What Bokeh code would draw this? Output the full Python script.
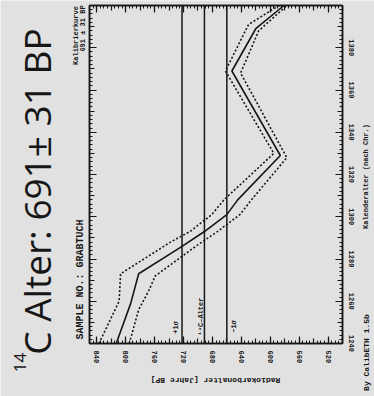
import math
from bokeh.plotting import figure
from bokeh.models import Range1d, LinearAxis, FixedTicker, Label
from bokeh.embed import file_html
from bokeh.resources import INLINE

# ---- data (calendar year AD, radiocarbon age BP) ----
curve_years = [1240, 1259, 1273, 1286, 1293, 1301, 1308, 1329, 1369, 1389, 1400]
curve_bp    = [813, 793, 782, 722, 691, 660, 645, 586, 653, 620, 581]

upper_years = [1240, 1260, 1273, 1288, 1293, 1301, 1308, 1330, 1369, 1391, 1400]
upper_bp    = [837, 809, 807, 738, 711, 681, 664, 595, 662, 630, 588]

lower_years = [1240, 1256, 1265, 1272, 1286, 1293, 1301, 1308, 1328, 1368, 1388, 1400]
lower_bp    = [795, 782, 768, 759, 703, 673, 642, 626, 577, 641, 616, 577]

c14_lines  = [722, 691, 660]          # +1 sigma, 14C age, -1 sigma
c14_labels = ["+1σ", "¹⁴C–Alter", "−1σ"]

bp_box   = (850, 500)
year_box = (1240, 1400)
bp_label_ticks   = list(range(520, 841, 40))
bp_mid_ticks     = list(range(500, 851, 20))
bp_minor_ticks   = list(range(500, 851, 5))
year_label_ticks = list(range(1240, 1381, 20))
year_mid_ticks   = list(range(1240, 1401, 10))
year_minor_ticks = list(range(1240, 1401, 2))

W, H = 374, 396
BOX_L, BOX_R, BOX_T, BOX_B = 89, 342, 5, 343
BG = "#e1e1e1"
INK = "#161616"
MONO = "Liberation Mono"

sx = (bp_box[1] - bp_box[0]) / (BOX_R - BOX_L)
sy = (year_box[0] - year_box[1]) / (BOX_B - BOX_T)
x_left, x_right = bp_box[0] - BOX_L * sx, bp_box[1] + (W - BOX_R) * sx
y_top, y_bottom = year_box[1] - BOX_T * sy, year_box[0] + (H - BOX_B) * sy

p = figure(width=W, height=H, x_range=Range1d(x_left, x_right), y_range=Range1d(y_bottom, y_top),
           output_backend="svg", toolbar_location=None,
           x_axis_location=None, y_axis_location=None, min_border=0)
p.background_fill_color = BG
p.border_fill_color = BG
p.outline_line_color = None
for g in p.grid:
    g.visible = False


def add_axis(side, loc, bounds, ticks, minor, tick_len, labels, standoff=5):
    ax = LinearAxis(ticker=FixedTicker(ticks=ticks, minor_ticks=minor), fixed_location=loc, bounds=bounds)
    ax.major_tick_in = tick_len
    ax.major_tick_out = 0
    ax.minor_tick_in = 3
    ax.minor_tick_out = 0
    ax.axis_line_color = INK
    ax.axis_line_width = 1.5
    ax.major_tick_line_color = INK
    ax.minor_tick_line_color = INK if minor else None
    ax.major_tick_line_width = 1.2
    ax.minor_tick_line_width = 1
    if labels:
        ax.major_label_text_font = MONO
        ax.major_label_text_font_style = "bold"
        ax.major_label_text_font_size = "7px"
        ax.major_label_text_color = INK
        ax.major_label_orientation = "vertical"
        ax.major_label_standoff = standoff
    else:
        ax.major_label_text_color = None
    p.add_layout(ax, side)


bpb = (min(bp_box), max(bp_box))
# radiocarbon axis (bottom of the turned chart) and its mirror on top
add_axis("below", year_box[0], bpb, bp_label_ticks, bp_minor_ticks, 7, True, 7)
add_axis("below", year_box[0], bpb, bp_mid_ticks, [], 5, False)
add_axis("above", year_box[1], bpb, bp_label_ticks, bp_minor_ticks, 7, False)
add_axis("above", year_box[1], bpb, bp_mid_ticks, [], 5, False)
# calendar axis (right of the turned chart) and its mirror on the left
add_axis("right", bp_box[1], year_box, year_label_ticks, year_minor_ticks, 7, True, 6)
add_axis("right", bp_box[1], year_box, year_mid_ticks, [], 5, False)
add_axis("left", bp_box[0], year_box, year_label_ticks, year_minor_ticks, 7, False)
add_axis("left", bp_box[0], year_box, year_mid_ticks, [], 5, False)

# curves
p.line(curve_bp, curve_years, line_color=INK, line_width=1.6)
p.line(upper_bp, upper_years, line_color=INK, line_width=1.6, line_dash="2 2")
p.line(lower_bp, lower_years, line_color=INK, line_width=1.6, line_dash="2 2")

# 14C age and +-1 sigma lines across the box
p.segment(x0=c14_lines, y0=[year_box[0]] * 3, x1=c14_lines, y1=[year_box[1]] * 3,
          line_color=INK, line_width=1.5)


# helpers: picture pixel -> data coordinates
def xd(ix):
    return x_left + ix * (x_right - x_left) / W


def yd(iy):
    return y_top + iy * (y_bottom - y_top) / H


def lab(text, cx, cy, size, font=MONO, style="bold", angle=math.pi / 2):
    """Text centred on picture pixel (cx, cy)."""
    p.add_layout(Label(x=xd(cx), y=yd(cy), text=text, angle=angle, text_font=font,
                       text_font_style=style, text_font_size=size, text_color=INK,
                       text_align="center", text_baseline="middle"))


# line labels
lab(c14_labels[0], 175, 327, "7px")
lab(c14_labels[1], 200, 316, "7px")
lab(c14_labels[2], 233, 326, "7px")

# chart texts
lab("SAMPLE NO.: GRABTUCH", 80, 279, "10px")
lab("Kalibrierkurve", 75, 35, "7px")
lab("691 ± 31 BP", 82, 28, "7px")
lab("Kalenderalter (nach Chr.)", 365, 176, "7px")
lab("By CalibETH 1.5b", 366, 352, "8px")
lab("Radiokarbonalter [Jahre BP]", 215, 380, "8px", angle=math.pi)

# big overlay text
lab("14", 19, 362, "17px", font="Open Sans", style="normal")
lab("C Alter: 691± 31 BP", 36, 191, "37px", font="Open Sans", style="normal")

open("out.html", "w").write(file_html(p, INLINE))
